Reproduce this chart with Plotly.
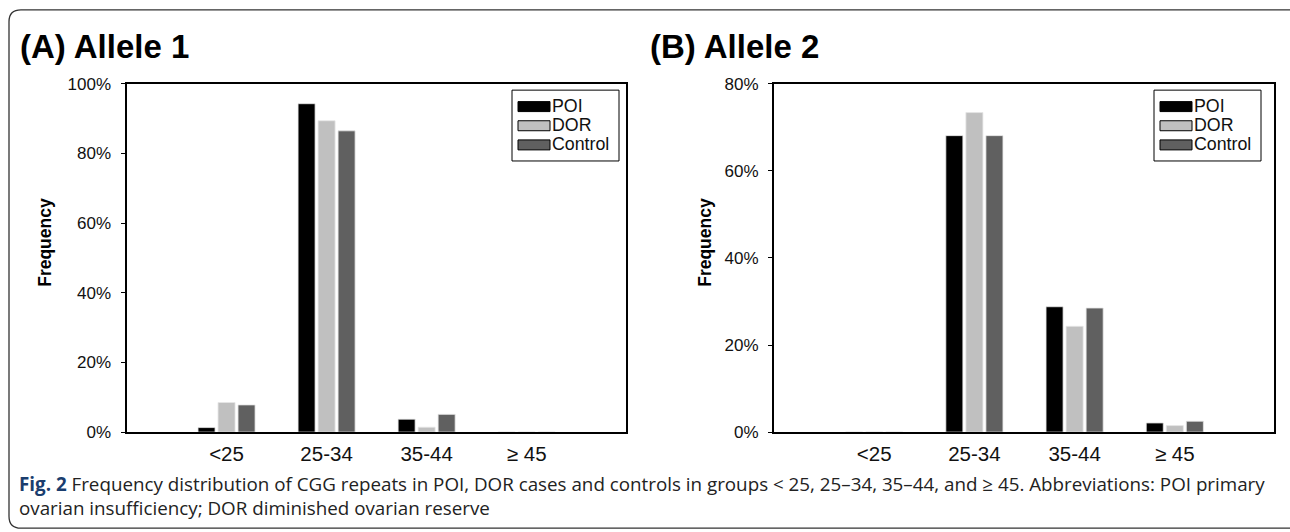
import plotly.graph_objects as go

FW, FH = 1290, 542
# vertical mapping from reference pixel rows to page rows (compensates the capture's vertical fit)
VS, VB = 0.967, 7.7

categories = ["<25", "25-34", "35-44", "\u2265 45"]
series_names = ["POI", "DOR", "Control"]
colors = ["#000000", "#c0c0c0", "#606060"]

# Allele 1 frequencies (%)
allele1_poi = [1.3, 94.3, 3.7, 0.0]
allele1_dor = [8.5, 89.4, 1.4, 0.0]
allele1_control = [7.8, 86.5, 5.1, 0.0]

# Allele 2 frequencies (%)
allele2_poi = [0.0, 68.1, 28.8, 2.1]
allele2_dor = [0.0, 73.4, 24.3, 1.5]
allele2_control = [0.0, 68.1, 28.5, 2.5]

yticks_a = [0, 20, 40, 60, 80, 100]
yticks_b = [0, 20, 40, 60, 80]


def px_x(v):
    return v / FW


def py(v):
    return (v - VB) / VS


def px_y(v):
    return 1 - py(v) / FH


fig = go.Figure()

for name, col, vals in zip(series_names, colors, [allele1_poi, allele1_dor, allele1_control]):
    fig.add_trace(go.Bar(x=categories, y=vals, name=name,
                         marker=dict(color=col, line=dict(color="#e6e6e6", width=0.8)),
                         xaxis="x", yaxis="y", showlegend=False))
for name, col, vals in zip(series_names, colors, [allele2_poi, allele2_dor, allele2_control]):
    fig.add_trace(go.Bar(x=categories, y=vals, name=name,
                         marker=dict(color=col, line=dict(color="#e6e6e6", width=0.8)),
                         xaxis="x2", yaxis="y2", showlegend=False))

ydom = [px_y(431.7), px_y(82.7)]
font_tick = dict(family="Liberation Sans, Arial, sans-serif", size=17, color="#111111")
font_xtick = dict(family="Liberation Sans, Arial, sans-serif", size=20.5, color="#111111")

xcommon = dict(type="category", categoryorder="array", categoryarray=categories, range=[-1, 3.99],
               showline=True, linecolor="black", linewidth=2, mirror=True, ticks="",
               showgrid=False, zeroline=False, tickfont=font_xtick, ticklabelstandoff=2, fixedrange=True)
ycommon = dict(showline=True, linecolor="black", linewidth=2, mirror=True, ticks="outside", ticklen=4,
               tickwidth=1, tickcolor="black", showgrid=False, zeroline=False,
               tickfont=font_tick, ticklabelstandoff=6, fixedrange=True)

fig.update_layout(
    width=FW, height=FH,
    margin=dict(l=0, r=0, t=0, b=0),
    paper_bgcolor="white", plot_bgcolor="white",
    barmode="group", bargap=0.4, bargroupgap=0.15,
    showlegend=False,
    xaxis=dict(domain=[px_x(126.5), px_x(625.7)], anchor="y", **xcommon),
    yaxis=dict(domain=ydom, anchor="x", range=[0, 100], tickvals=yticks_a,
               ticktext=[f"{v}%" for v in yticks_a], **ycommon),
    xaxis2=dict(domain=[px_x(774), px_x(1274)], anchor="y2", **xcommon),
    yaxis2=dict(domain=ydom, anchor="x2", range=[0, 80], tickvals=yticks_b,
                ticktext=[f"{v}%" for v in yticks_b], **ycommon),
)

title_font = dict(family="Liberation Sans, Arial, sans-serif", size=33, color="black")
axis_title_font = dict(family="Liberation Sans, Arial, sans-serif", size=17.5, color="black")
caption_font = dict(family="Open Sans, sans-serif", size=18.8, color="#222222")
legend_font = dict(family="Liberation Sans, Arial, sans-serif", size=17.8, color="#111111")

caption = ("<span style='color:#1a3d6e'><b>Fig. 2</b></span> Frequency distribution of CGG repeats in POI, DOR "
           "cases and controls in groups &lt; 25, 25\u201334, 35\u201344, and \u2265 45. Abbreviations: POI primary"
           "<br>ovarian insufficiency; DOR diminished ovarian reserve")

annotations = [
    dict(text="<b>(A) Allele 1</b>", x=px_x(19), y=px_y(45), xanchor="left", yanchor="middle", font=title_font),
    dict(text="<b>(B) Allele 2</b>", x=px_x(649), y=px_y(45), xanchor="left", yanchor="middle", font=title_font),
    dict(text="<b>Frequency</b>", x=px_x(45), y=px_y(242), textangle=-90, xanchor="center", yanchor="middle",
         font=axis_title_font),
    dict(text="<b>Frequency</b>", x=px_x(705), y=px_y(242), textangle=-90, xanchor="center", yanchor="middle",
         font=axis_title_font),
    dict(text=caption, x=px_x(18), y=px_y(496), xanchor="left", yanchor="middle", align="left", font=caption_font),
]

shapes = []
# legends (box, swatches, labels) for each panel
for bx in (512, 1154):
    shapes.append(dict(type="rect", x0=px_x(bx), x1=px_x(bx + 107), y0=px_y(160), y1=px_y(89),
                       line=dict(color="black", width=1), fillcolor="white"))
    for i, (name, col) in enumerate(zip(series_names, colors)):
        cy = 105.5 + 19.2 * i
        shapes.append(dict(type="rect", x0=px_x(bx + 6), x1=px_x(bx + 38), y0=px_y(cy + 5), y1=px_y(cy - 5),
                           line=dict(color="black", width=1), fillcolor=col))
        annotations.append(dict(text=name, x=px_x(bx + 38.5), y=px_y(cy - 1), xanchor="left", yanchor="middle",
                                font=legend_font))

for a in annotations:
    a.update(xref="paper", yref="paper", showarrow=False, borderpad=0)

# rounded frame around the figure
x0, x1, y0, y1, r = 9, 1291, 8.5, 528, 12
path = (f"M {px_x(x1)},{px_y(y0)} L {px_x(x0 + r)},{px_y(y0)} "
        f"Q {px_x(x0)},{px_y(y0)} {px_x(x0)},{px_y(y0 + r)} "
        f"L {px_x(x0)},{px_y(y1 - r)} Q {px_x(x0)},{px_y(y1)} {px_x(x0 + r)},{px_y(y1)} "
        f"L {px_x(x1)},{px_y(y1)}")
shapes.append(dict(type="path", path=path, line=dict(color="#333333", width=1.3)))
for s in shapes:
    s.update(xref="paper", yref="paper", layer="above")

fig.update_layout(annotations=annotations, shapes=shapes)

fig.write_html("out.html", config={"displayModeBar": False},
               post_script="document.body.style.margin='0';document.body.style.overflow='hidden';")
